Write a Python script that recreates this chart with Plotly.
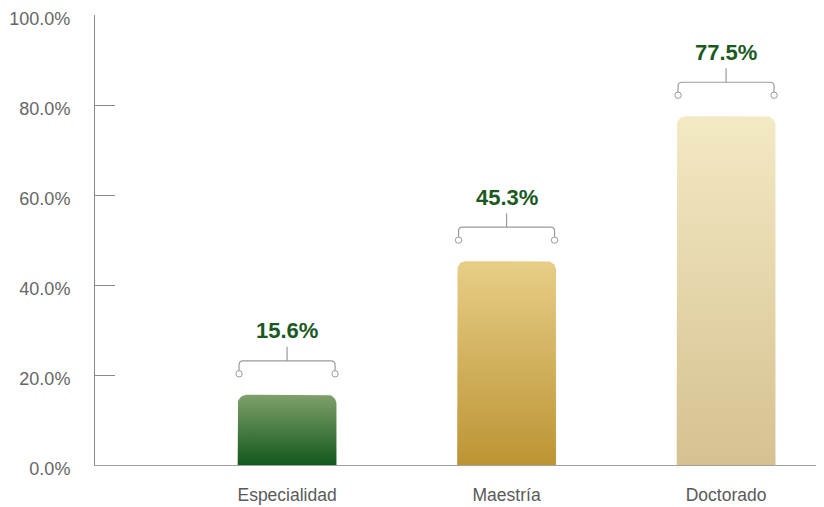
import numpy as np
import plotly.graph_objects as go

categories = ["Especialidad", "Maestría", "Doctorado"]
values = [15.6, 45.3, 77.5]
labels = ["15.6%", "45.3%", "77.5%"]
top_colors = ["#7fa06b", "#e7ce87", "#f3e9c4"]
bottom_colors = ["#12581c", "#bd9434", "#d6c190"]
y_ticks = [0, 20, 40, 60, 80, 100]
y_ticktext = ["0.0%", "20.0%", "40.0%", "60.0%", "80.0%", "100.0%"]

# layout constants (page body has an 8px margin)
W, H = 824, 507
ml, mr, mt, mb = 87, 10, 7, 50
x_range = [-0.875, 2.437]
y_range = [0, 100]
px_per_x = (W - ml - mr) / (x_range[1] - x_range[0])
px_per_y = (H - mt - mb) / (y_range[1] - y_range[0])
bar_w = 0.45
rad_px = 9

fig = go.Figure()

def rounded_bar(xc, v):
    rx = rad_px / px_per_x
    ry = rad_px / px_per_y
    x0, x1 = xc - bar_w / 2, xc + bar_w / 2
    xs, ys = [x0], [0]
    t = np.linspace(np.pi, np.pi / 2, 12)
    xs += list(x0 + rx + rx * np.cos(t))
    ys += list(v - ry + ry * np.sin(t))
    t = np.linspace(np.pi / 2, 0, 12)
    xs += list(x1 - rx + rx * np.cos(t))
    ys += list(v - ry + ry * np.sin(t))
    xs += [x1, x0]
    ys += [0, 0]
    return xs, ys

for i, (c, v) in enumerate(zip(categories, values)):
    xs, ys = rounded_bar(i, v)
    fig.add_trace(go.Scatter(
        x=xs, y=ys, mode="lines", fill="toself",
        line=dict(width=0, color=bottom_colors[i]),
        fillgradient=dict(type="vertical",
                          colorscale=[[0, bottom_colors[i]], [1, top_colors[i]]]),
        hoverinfo="skip", showlegend=False, name=c,
    ))
    # bracket (pixel-sized, anchored at bar top)
    r = 4
    path = (f"M -48,24 L -48,{34 - r} Q -48,34 {-48 + r},34 "
            f"L {48 - r},34 Q 48,34 48,{34 - r} L 48,24 "
            f"M 0,34 L 0,48")
    fig.add_shape(type="path", path=path, xref="x", yref="y",
                  xsizemode="pixel", ysizemode="pixel",
                  xanchor=i, yanchor=v,
                  line=dict(color="#9a9a9a", width=1.2))
    for dx in (-48, 48):
        fig.add_shape(type="circle", xref="x", yref="y",
                      xsizemode="pixel", ysizemode="pixel",
                      xanchor=i, yanchor=v,
                      x0=dx - 3.2, x1=dx + 3.2, y0=17.8, y1=24.2,
                      line=dict(color="#9a9a9a", width=1), fillcolor="white")
    fig.add_annotation(x=i, y=v, yshift=64, text=f"<b>{labels[i]}</b>",
                       showarrow=False, yanchor="middle",
                       font=dict(family="Liberation Sans, Arial", size=22, color="#1b5a1f"))

# circle at end of x axis
fig.add_shape(type="circle", xref="x", yref="y", xsizemode="pixel", ysizemode="pixel",
              xanchor=x_range[1], yanchor=0, x0=-3, x1=3, y0=-3, y1=3,
              line=dict(color="#9a9a9a", width=1), fillcolor="white")

fig.update_layout(
    width=W, height=H,
    margin=dict(l=ml, r=mr, t=mt, b=mb),
    plot_bgcolor="white", paper_bgcolor="white",
    font=dict(family="Liberation Sans, Arial", color="#666666"),
    xaxis=dict(range=x_range, tickvals=list(range(len(categories))), ticktext=categories,
               showgrid=False, zeroline=False, showline=True, linecolor="#a0a0a0",
               linewidth=1, ticks="", tickfont=dict(size=17.5, color="#5a5a5a"),
               ticklabelstandoff=14, automargin=False, fixedrange=True),
    yaxis=dict(range=y_range, tickvals=y_ticks, ticktext=y_ticktext,
               showgrid=False, zeroline=False, showline=True, linecolor="#8a8a8a",
               linewidth=1, ticks="inside", ticklen=20, tickcolor="#8a8a8a",
               tickfont=dict(size=18, color="#666666"), ticklabelstandoff=20,
               ticklabelshift=4, ticklabeloverflow="allow",
               automargin=False, fixedrange=True),
)

fig.write_html("out.html")
